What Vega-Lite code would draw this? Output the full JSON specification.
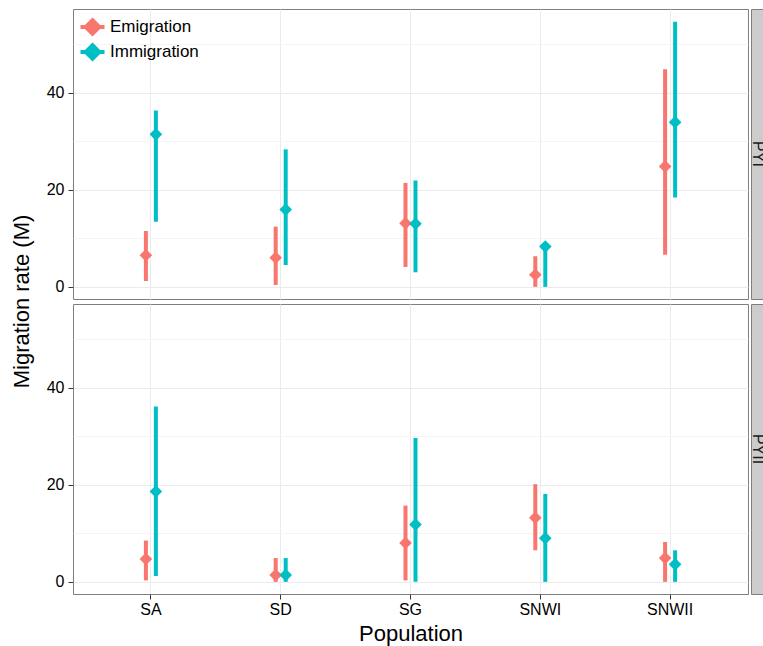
{
  "$schema": "https://vega.github.io/schema/vega-lite/v6.json",
  "padding": {"left": 10, "top": 8, "right": 0, "bottom": 1},
  "spacing": 3,
  "title": {"text": "Migration rate (M)", "orient": "left", "anchor": "middle", "fontSize": 22, "fontWeight": "normal", "color": "#000000", "offset": 12, "dx": 25},
  "datasets": {
    "rates": [
      {"period": "PYI", "population": "SA", "type": "Emigration", "value": 6.5, "lower": 1.2, "upper": 11.5},
      {"period": "PYI", "population": "SA", "type": "Immigration", "value": 31.4, "lower": 13.4, "upper": 36.3},
      {"period": "PYI", "population": "SD", "type": "Emigration", "value": 6.0, "lower": 0.4, "upper": 12.4},
      {"period": "PYI", "population": "SD", "type": "Immigration", "value": 15.9, "lower": 4.5, "upper": 28.3},
      {"period": "PYI", "population": "SG", "type": "Emigration", "value": 13.1, "lower": 4.1, "upper": 21.4},
      {"period": "PYI", "population": "SG", "type": "Immigration", "value": 13.0, "lower": 3.0, "upper": 21.9},
      {"period": "PYI", "population": "SNWI", "type": "Emigration", "value": 2.5, "lower": 0.0, "upper": 6.3},
      {"period": "PYI", "population": "SNWI", "type": "Immigration", "value": 8.3, "lower": 0.0, "upper": 9.0},
      {"period": "PYI", "population": "SNWII", "type": "Emigration", "value": 24.8, "lower": 6.6, "upper": 44.8},
      {"period": "PYI", "population": "SNWII", "type": "Immigration", "value": 33.9, "lower": 18.4, "upper": 54.6},
      {"period": "PYII", "population": "SA", "type": "Emigration", "value": 4.7, "lower": 0.3, "upper": 8.5},
      {"period": "PYII", "population": "SA", "type": "Immigration", "value": 18.6, "lower": 1.2, "upper": 36.1},
      {"period": "PYII", "population": "SD", "type": "Emigration", "value": 1.4, "lower": 0.0, "upper": 4.9},
      {"period": "PYII", "population": "SD", "type": "Immigration", "value": 1.4, "lower": 0.0, "upper": 4.9},
      {"period": "PYII", "population": "SG", "type": "Emigration", "value": 8.0, "lower": 0.3, "upper": 15.7},
      {"period": "PYII", "population": "SG", "type": "Immigration", "value": 11.8, "lower": 0.0, "upper": 29.6},
      {"period": "PYII", "population": "SNWI", "type": "Emigration", "value": 13.2, "lower": 6.5, "upper": 20.1},
      {"period": "PYII", "population": "SNWI", "type": "Immigration", "value": 9.0, "lower": 0.0, "upper": 18.1},
      {"period": "PYII", "population": "SNWII", "type": "Emigration", "value": 4.9, "lower": 0.0, "upper": 8.2},
      {"period": "PYII", "population": "SNWII", "type": "Immigration", "value": 3.6, "lower": 0.0, "upper": 6.5}
    ]
  },
  "resolve": {"scale": {"color": "independent"}, "legend": {"color": "independent"}},
  "config": {
    "font": "Liberation Sans",
    "view": {"stroke": "#7f7f7f", "strokeWidth": 1},
    "axis": {
      "labelFontSize": 16, "labelColor": "#000000", "tickColor": "#333333", "tickSize": 5,
      "labelPadding": 4, "domain": false, "titleFontSize": 22, "titleFontWeight": "normal",
      "titleColor": "#000000", "gridColor": "#ebebeb"
    },
    "legend": {"labelFontSize": 17, "labelColor": "#000000"}
  },
  "vconcat": [
    {
      "hconcat": [
        {
          "width": 675, "height": 290,
          "data": {"name": "rates"},
          "transform": [{"filter": "datum.period === 'PYI'"}],
          "encoding": {
            "x": {"field": "population", "type": "nominal",
              "scale": {"type": "band", "domain": ["SA", "SD", "SG", "SNWI", "SNWII"], "paddingInner": 0, "paddingOuter": 0.1},
              "axis": {"labels": false, "ticks": false, "title": null, "grid": true, "bandPosition": 0.5, "labelPadding": 0}},
            "xOffset": {"field": "type", "type": "nominal",
              "scale": {"type": "point", "domain": ["Emigration", "Immigration"], "range": [54.9, 74.9]}},
            "color": {"field": "type", "type": "nominal",
              "scale": {"domain": ["Emigration", "Immigration"], "range": ["#F8766D", "#00BFC4"]},
              "legend": {"title": null, "orient": "none", "legendX": 10, "legendY": 8.5, "padding": 0,
                "symbolType": "M-1.7,0L1.7,0M0,-0.95L0.95,0L0,0.95L-0.95,0Z", "symbolSize": 200,
                "symbolStrokeWidth": 4, "rowPadding": -6, "labelOffset": 8}}
          },
          "layer": [
            {"mark": {"type": "point", "shape": "diamond", "filled": true, "size": 160, "opacity": 1},
              "encoding": {"y": {"field": "value", "type": "quantitative",
                "scale": {"domain": [-2.5, 57.2], "nice": false, "zero": false},
                "axis": {"title": null,
                  "values": [0, 10, 20, 30, 40, 50],
                  "labelExpr": "datum.value % 20 === 0 ? datum.label : ''",
                  "tickOpacity": {"condition": {"test": "datum.value % 20 === 0", "value": 1}, "value": 0},
                  "gridColor": {"condition": {"test": "datum.value % 20 === 0", "value": "#ebebeb"}, "value": "#f5f5f5"}}}}},
            {"mark": {"type": "rule", "strokeWidth": 4},
              "encoding": {"y": {"field": "lower", "type": "quantitative"}, "y2": {"field": "upper"}}}
          ]
        },
        {
          "width": 13, "height": 290,
          "data": {"values": [{"period": "PYI"}]},
          "mark": {"type": "text", "angle": 90, "fontSize": 16, "color": "#1a1a1a", "align": "center", "baseline": "middle"},
          "encoding": {"text": {"field": "period"}},
          "view": {"fill": "#cccccc", "stroke": "#7f7f7f"}
        }
      ],
      "spacing": 0,
      "resolve": {"scale": {"color": "independent"}, "legend": {"color": "independent"}}
    },
    {
      "hconcat": [
        {
          "width": 675, "height": 290,
          "data": {"name": "rates"},
          "transform": [{"filter": "datum.period === 'PYII'"}],
          "encoding": {
            "x": {"field": "population", "type": "nominal",
              "scale": {"type": "band", "domain": ["SA", "SD", "SG", "SNWI", "SNWII"], "paddingInner": 0, "paddingOuter": 0.1},
              "axis": {"title": "Population", "labelAngle": 0, "labelPadding": 2, "titlePadding": 6, "grid": true, "bandPosition": 0.5}},
            "xOffset": {"field": "type", "type": "nominal",
              "scale": {"type": "point", "domain": ["Emigration", "Immigration"], "range": [54.9, 74.9]}},
            "color": {"field": "type", "type": "nominal",
              "scale": {"domain": ["Emigration", "Immigration"], "range": ["#F8766D", "#00BFC4"]},
              "legend": null}
          },
          "layer": [
            {"mark": {"type": "point", "shape": "diamond", "filled": true, "size": 160, "opacity": 1},
              "encoding": {"y": {"field": "value", "type": "quantitative",
                "scale": {"domain": [-2.5, 57.2], "nice": false, "zero": false},
                "axis": {"title": null,
                  "values": [0, 10, 20, 30, 40, 50],
                  "labelExpr": "datum.value % 20 === 0 ? datum.label : ''",
                  "tickOpacity": {"condition": {"test": "datum.value % 20 === 0", "value": 1}, "value": 0},
                  "gridColor": {"condition": {"test": "datum.value % 20 === 0", "value": "#ebebeb"}, "value": "#f5f5f5"}}}}},
            {"mark": {"type": "rule", "strokeWidth": 4},
              "encoding": {"y": {"field": "lower", "type": "quantitative"}, "y2": {"field": "upper"}}}
          ]
        },
        {
          "width": 13, "height": 290,
          "data": {"values": [{"period": "PYII"}]},
          "mark": {"type": "text", "angle": 90, "fontSize": 16, "color": "#1a1a1a", "align": "center", "baseline": "middle"},
          "encoding": {"text": {"field": "period"}},
          "view": {"fill": "#cccccc", "stroke": "#7f7f7f"}
        }
      ],
      "spacing": 0,
      "resolve": {"scale": {"color": "independent"}, "legend": {"color": "independent"}}
    }
  ]
}
